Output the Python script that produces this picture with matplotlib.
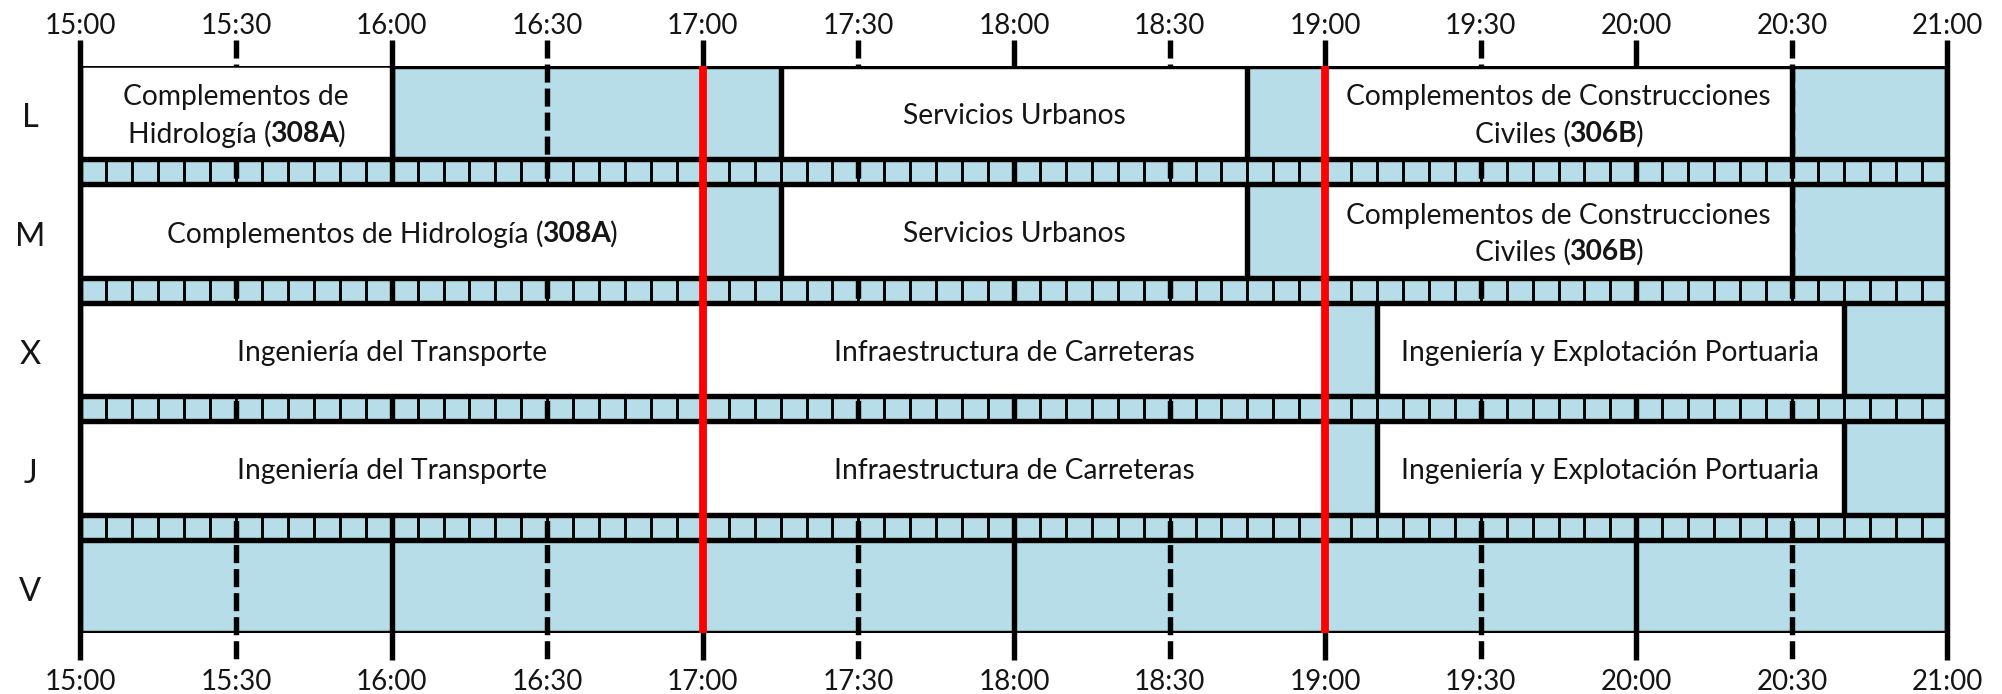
import matplotlib
matplotlib.use("Agg")
import matplotlib.pyplot as plt
from matplotlib import transforms
from matplotlib.patches import Rectangle

plt.rcParams["font.family"] = ["Lato", "DejaVu Sans"]
plt.rcParams["lines.scale_dashes"] = False

# ---------------- data ----------------
days = ["L", "M", "X", "J", "V"]
tick_labels = ["15:00", "15:30", "16:00", "16:30", "17:00", "17:30", "18:00",
               "18:30", "19:00", "19:30", "20:00", "20:30", "21:00"]
class_day = [0, 0, 0, 1, 1, 1, 2, 2, 2, 3, 3, 3]
class_start = ["15:00", "17:15", "19:00",
               "15:00", "17:15", "19:00",
               "15:00", "17:00", "19:10",
               "15:00", "17:00", "19:10"]
class_end = ["16:00", "18:45", "20:30",
             "17:00", "18:45", "20:30",
             "17:00", "19:00", "20:40",
             "17:00", "19:00", "20:40"]
class_name = ["Complementos de\nHidrología (**308A**)",
              "Servicios Urbanos",
              "Complementos de Construcciones\nCiviles (**306B**)",
              "Complementos de Hidrología (**308A**)",
              "Servicios Urbanos",
              "Complementos de Construcciones\nCiviles (**306B**)",
              "Ingeniería del Transporte",
              "Infraestructura de Carreteras",
              "Ingeniería y Explotación Portuaria",
              "Ingeniería del Transporte",
              "Infraestructura de Carreteras",
              "Ingeniería y Explotación Portuaria"]
red_times = ["17:00", "19:00"]
slot_minutes = 5

# ---------------- style ----------------
BLUE = "#b7dde8"
TEXT = "#151515"
ROW_H = 93.5      # px per day row
STRIP_H = 25.0    # px per separator strip
THICK = 3.9
THIN = 2.1
FS = 20.3
TICK_FS = 20.0
DAY_FS = 23.5


def hours(s):
    h, m = s.split(":")
    return int(h) + int(m) / 60.0


W, H = 2002, 694
fig = plt.figure(figsize=(W / 100, H / 100), dpi=100)
left_px, right_px, top_px, bottom_px = 80.5, 1947.5, 65.5, 633.0
ax = fig.add_axes([left_px / W, 1 - bottom_px / H,
                   (right_px - left_px) / W, (bottom_px - top_px) / H])
x0, x1 = hours(tick_labels[0]), hours(tick_labels[-1])
total_h = len(days) * ROW_H + (len(days) - 1) * STRIP_H
ax.set_xlim(x0, x1)
ax.set_ylim(total_h, 0)
ax.axis("off")

row_top = [i * (ROW_H + STRIP_H) for i in range(len(days))]
row_bot = [t + ROW_H for t in row_top]

# background
ax.add_patch(Rectangle((x0, 0), x1 - x0, total_h, facecolor=BLUE,
                       edgecolor="none", zorder=0))

# vertical grid lines (solid on the hour, dashed on the half hour)
ext_top, ext_bot = -25.5, total_h + 27
for lab in tick_labels:
    x = hours(lab)
    if lab.endswith(":00"):
        ax.plot([x, x], [ext_top, ext_bot], color="black", lw=THICK,
                solid_capstyle="butt", clip_on=False, zorder=1)
    else:
        ax.plot([x, x], [ext_top, ext_bot], color="black", lw=THICK,
                linestyle=(0, (13.0, 4.3)), dash_capstyle="butt",
                clip_on=False, zorder=1)

# strips with 5-minute cells
n_slots = int(round((x1 - x0) * 60 / slot_minutes))
slot_x = [x0 + k * slot_minutes / 60 for k in range(1, n_slots)]
for i in range(len(days) - 1):
    ax.vlines(slot_x, row_bot[i], row_top[i + 1], color="black", lw=THIN,
              zorder=2)

# class blocks
for d, s, e in zip(class_day, class_start, class_end):
    xs, xe = hours(s), hours(e)
    ax.add_patch(Rectangle((xs, row_top[d]), xe - xs, ROW_H,
                           facecolor="white", edgecolor="none", zorder=3))
    ax.vlines([xs, xe], row_top[d], row_bot[d], color="black", lw=THICK,
              zorder=3.5)

# horizontal lines
first_end = hours(class_end[0])
ax.hlines(0, x0, first_end, color="black", lw=1.8, zorder=4)
ax.hlines(0, first_end, x1, color="black", lw=THICK, zorder=4)
ax.hlines(row_bot, x0, x1, color="black", lw=THICK, zorder=4)
ax.hlines(row_top[1:], x0, x1, color="black", lw=THICK, zorder=4)
ax.vlines([x0, x1], 0, total_h, color="black", lw=THICK, zorder=4)

# red lines
for r in red_times:
    ax.plot([hours(r)] * 2, [0, total_h], color="#ff0000", lw=5.6,
            solid_capstyle="butt", zorder=5, clip_on=False)

# tick labels
for lab in tick_labels:
    x = hours(lab)
    ax.text(x, -42, lab, ha="center", va="center_baseline", fontsize=TICK_FS,
            color=TEXT, clip_on=False)
    ax.text(x, total_h + 46, lab, ha="center", va="center_baseline",
            fontsize=TICK_FS, color=TEXT, clip_on=False)

# day labels
lab_tr = transforms.offset_copy(ax.get_yaxis_transform(), fig=fig,
                                x=-50.5, y=0, units="dots")
for i, d in enumerate(days):
    ax.text(0, (row_top[i] + row_bot[i]) / 2 + 3, d, transform=lab_tr,
            ha="center", va="center_baseline", fontsize=DAY_FS, color=TEXT,
            clip_on=False)

# class names (with bold parts marked by **)
renderer = fig.canvas.get_renderer()


def parse(line):
    parts = line.split("**")
    return [(p, k % 2 == 1) for k, p in enumerate(parts) if p]


def rich_line(xc, yc, line):
    segs = parse(line)
    texts, widths = [], []
    for s, b in segs:
        t = ax.text(xc, yc, s, ha="left", va="center_baseline", fontsize=FS,
                    fontweight="bold" if b else "normal", color=TEXT,
                    zorder=6)
        texts.append(t)
        widths.append(t.get_window_extent(renderer).width)
    gap = -2.0
    total = sum(widths) + gap * (len(segs) - 1)
    off = -total / 2
    for t, w in zip(texts, widths):
        t.set_transform(transforms.offset_copy(ax.transData, fig=fig, x=off,
                                               y=0, units="dots"))
        off += w + gap


LINE_SP = 36.5
for d, s, e, name in zip(class_day, class_start, class_end, class_name):
    xc = (hours(s) + hours(e)) / 2
    yc = (row_top[d] + row_bot[d]) / 2 + 1
    lines = name.split("\n")
    n = len(lines)
    for k, ln in enumerate(lines):
        rich_line(xc, yc + (k - (n - 1) / 2) * LINE_SP, ln)

fig.savefig("out.png", dpi=100, facecolor="white")
